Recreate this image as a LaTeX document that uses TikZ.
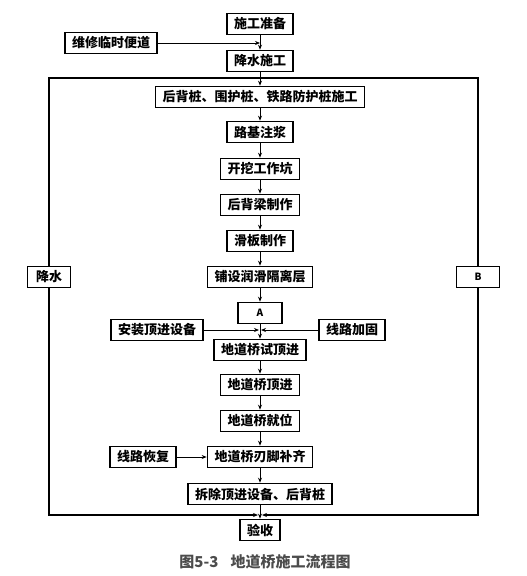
\documentclass[tikz,border=0pt]{standalone}
\usepackage{fontspec}
\newfontfamily\cjk{Noto Sans CJK SC}
\usepackage{tikz}
\usetikzlibrary{positioning,calc,arrows.meta}

\begin{document}
\begin{tikzpicture}[x=1pt,y=-1pt,
	stepbox/.style={draw,line width=1.6pt,inner xsep=7pt,inner ysep=0pt,minimum height=21pt,font=\cjk\bfseries\fontsize{13pt}{13pt}\selectfont},
	letterbox/.style={stepbox,minimum width=44pt,font=\cjk\bfseries\fontsize{10pt}{10pt}\selectfont},
	flow/.style={-{Stealth[length=5pt,width=4pt]},line width=0.8pt},
	frameline/.style={line width=1.6pt}]
	\useasboundingbox (0,0) rectangle (527,576);
	\def\cx{260}
	\def\ftop{78}
	\def\fbot{515}
	
	% top
	\node[stepbox] (sgzb) at (\cx,24) {施工准备};
	\node[stepbox] (wxbd) at (111,43) {维修临时便道};
	\node[stepbox] (jssg) at (\cx,61) {降水施工};
	% main chain
	\node[stepbox] (hbz) at (\cx,97) {后背桩、围护桩、铁路防护桩施工};
	\node[stepbox] (ljzj) at (\cx,132) {路基注浆};
	\node[stepbox] (kwgzk) at (\cx,169) {开挖工作坑};
	\node[stepbox] (hblzz) at (\cx,205) {后背梁制作};
	\node[stepbox] (hbzz) at (\cx,241) {滑板制作};
	\node[stepbox] (pshl) at (\cx,277) {铺设润滑隔离层};
	\node[letterbox] (nodeA) at (\cx,313) {A};
	\node[stepbox] (azsb) at (157,330) {安装顶进设备};
	\node[stepbox] (xljg) at (352,330) {线路加固};
	\node[stepbox] (sdjs) at (\cx,350) {地道桥试顶进};
	\node[stepbox] (djqdj) at (\cx,385) {地道桥顶进};
	\node[stepbox] (djqjw) at (\cx,421) {地道桥就位};
	\node[stepbox] (xlhf) at (143,457) {线路恢复};
	\node[stepbox] (rjbq) at (\cx,457) {地道桥刃脚补齐};
	\node[stepbox] (ccsb) at (\cx,494) {拆除顶进设备、后背桩};
	\node[stepbox] (ys) at (\cx,530) {验收};
	% sides of the frame
	\node[stepbox,minimum width=43pt] (js) at (49,277) {降水};
	\node[letterbox,minimum width=43pt] (nodeB) at (478,277) {B};
	
	\coordinate (topc) at (\cx,\ftop);
	\coordinate (botc) at (\cx,\fbot);
	
	% frame
	\draw[frameline] (js.north) |- (topc) -| (nodeB.north);
	\draw[frameline,-{Stealth[length=5pt,width=4pt]},shorten >=2pt] (js.south) |- (botc);
	\draw[frameline,-{Stealth[length=5pt,width=4pt]},shorten >=2pt] (nodeB.south) |- (botc);
	
	% arrows
	\draw[flow] (sgzb) -- (jssg);
	\draw[flow] (wxbd.east) -- (wxbd.east -| sgzb.south);
	\draw[flow] (jssg) -- (hbz);
	\draw[flow] (hbz) -- (ljzj);
	\draw[flow] (ljzj) -- (kwgzk);
	\draw[flow] (kwgzk) -- (hblzz);
	\draw[flow] (hblzz) -- (hbzz);
	\draw[flow] (hbzz) -- (pshl);
	\draw[flow] (pshl) -- (nodeA);
	\draw[flow] (nodeA) -- (sdjs);
	\draw[flow,shorten >=1pt] (azsb.east) -- (azsb.east -| sdjs.north);
	\draw[flow,shorten >=1pt] (xljg.west) -- (xljg.west -| sdjs.north);
	\draw[flow] (sdjs) -- (djqdj);
	\draw[flow] (djqdj) -- (djqjw);
	\draw[flow] (djqjw) -- (rjbq);
	\draw[flow] (xlhf) -- (rjbq);
	\draw[flow] (rjbq) -- (ccsb);
	\draw[flow] (ccsb) -- (ys);
	
	% caption
	\node[font=\cjk\bfseries\fontsize{15pt}{15pt}\selectfont,text=black!70] (caption) at (265,562) {图5-3\hspace{0.8em}地道桥施工流程图};
\end{tikzpicture}
\end{document}
